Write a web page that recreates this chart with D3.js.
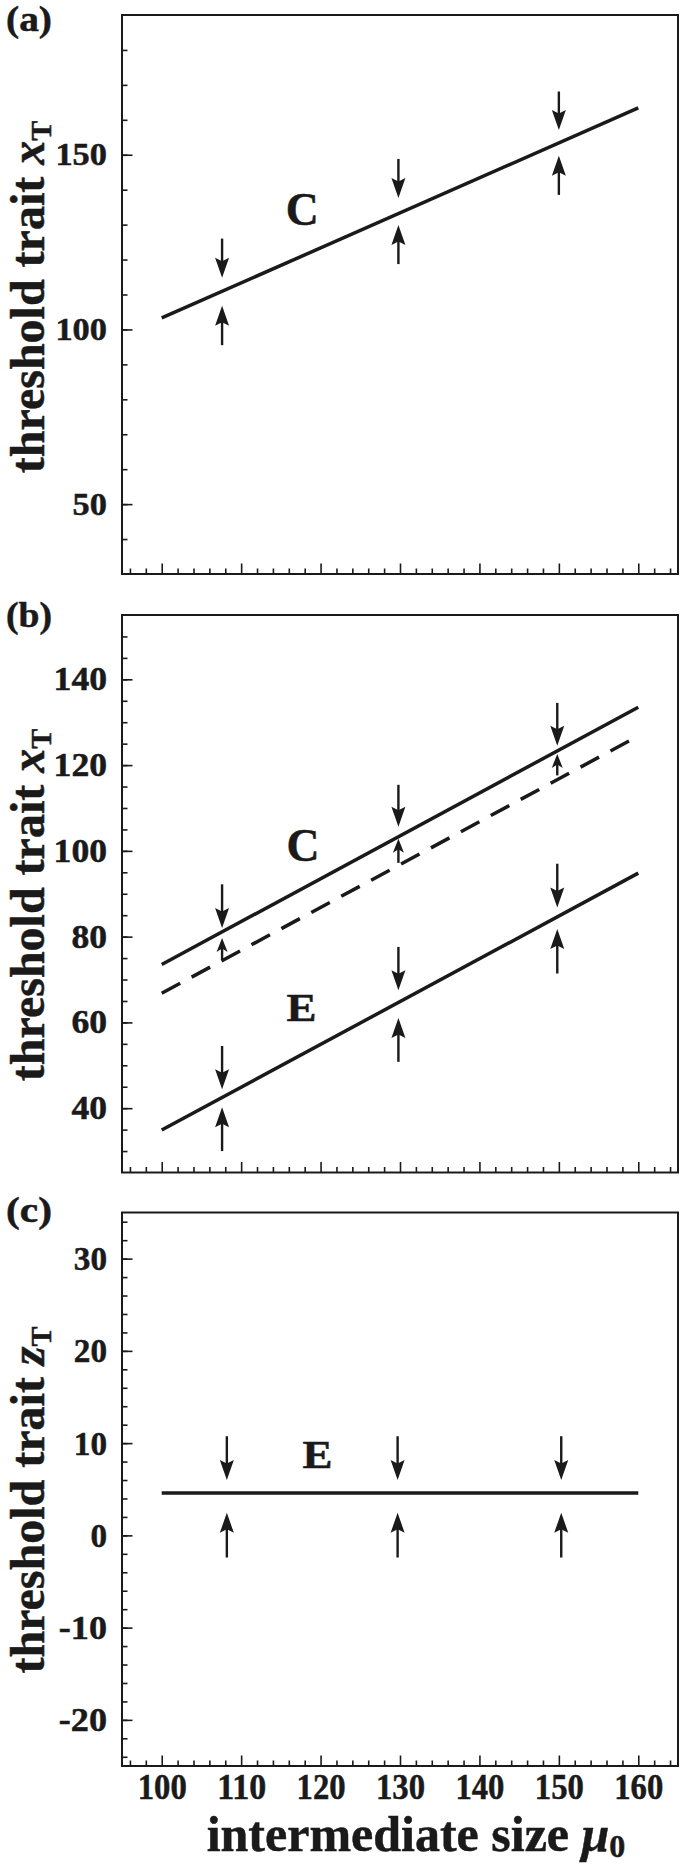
<!DOCTYPE html>
<html>
<head>
<meta charset="utf-8">
<script src="https://cdn.jsdelivr.net/npm/d3@7"></script>
<style>
  html, body { margin: 0; padding: 0; background: #fff; }
  svg { display: block; }
  text { font-family: "Liberation Serif", "Times New Roman", serif; font-weight: bold; fill: #1a1a1a; stroke: #1a1a1a; stroke-width: 0.5px; }
</style>
</head>
<body>
<svg id="chart" width="685" height="1868"></svg>
<script>
// ---------------- data ----------------
const xTickLabels = [100, 110, 120, 130, 140, 150, 160];
const lineX = [100, 160];

// panel (a)
const aTickLabels = [50, 100, 150];
const aLineC = [103.3, 163.4];
const aArrowX = [107.6, 129.8, 150.0];
const aDownFrom = [126.0, 148.8, 168.1];
const aDownTo   = [114.8, 137.6, 157.1];
const aUpFrom   = [95.5, 118.7, 138.5];
const aUpTo     = [106.8, 129.9, 149.7];

// panel (b)
const bTickLabels = [40, 60, 80, 100, 120, 140];
const bLineC = [73.5, 133.5];
const bLineCdash = [66.8, 126.8];
const bLineE = [34.9, 94.8];
const bArrowX = [107.6, 129.8, 149.8];
const bCDownFrom = [92.2, 115.4, 134.5];
const bCDownTo   = [82.0, 105.6, 124.5];
const bCUpFrom   = [74.6, 97.2, 117.6];
const bCUpTo     = [79.7, 102.8, 122.6];
const bEDownFrom = [54.5, 77.6, 97.0];
const bEDownTo   = [44.4, 67.5, 86.8];
const bEUpFrom   = [30.0, 50.8, 71.4];
const bEUpTo     = [40.2, 61.0, 81.8];

// panel (c)
const cTickLabels = [-20, -10, 0, 10, 20, 30];
const cLineE = [4.6, 4.6];
const cArrowX = [108.2, 129.7, 150.3];
const cDownFrom = [10.75, 10.75, 10.75];
const cDownTo   = [6.0, 6.0, 6.0];
const cUpFrom   = [-2.4, -2.4, -2.4];
const cUpTo     = [2.45, 2.45, 2.45];

// curve labels [x, y]
const aLabelC = [117.7, 130.0];
const bLabelC = [117.8, 97.7];
const bLabelE = [117.6, 60.3];
const cLabelE = [119.6, 7.3];

// ---------------- drawing ----------------
const svg = d3.select("#chart");
const left = 122, right = 678;
const x = d3.scaleLinear().domain([95, 165]).range([left, right]);
const INK = "#1a1a1a";
const FONT = '"Liberation Serif", "Times New Roman", serif';

const panels = [
  { tag: "(a)", top: 15, bottom: 574, domain: [30, 190], labels: aTickLabels, minor: 10, lblY: 31,
    tickFont: 31, dw: 17.2, hw: 14, title: "x", titleCY: 297 },
  { tag: "(b)", top: 615, bottom: 1172.5, domain: [25, 155], labels: bTickLabels, minor: 5, lblY: 627,
    tickFont: 33, dw: 17.8, hw: 14, title: "x", titleCY: 905 },
  { tag: "(c)", top: 1212.5, bottom: 1766, domain: [-25, 35], labels: cTickLabels, minor: 2, lblY: 1222,
    tickFont: 34, dw: 16.6, hw: 15, title: "z", titleCY: 1500 }
];

function labelWidth(d, dw, hw) {
  const s = String(d);
  const nd = s.replace("-", "").length;
  return nd * dw + (d < 0 ? hw : 0);
}

function drawArrow(g, px, y1, y2, headLen, headHalf) {
  const dir = Math.sign(y2 - y1);
  const base = y2 - dir * headLen;
  g.append("line")
    .attr("x1", px).attr("x2", px)
    .attr("y1", y1).attr("y2", base + dir * 2)
    .attr("stroke", INK).attr("stroke-width", 2.4);
  g.append("path")
    .attr("d", `M${px},${y2} L${px - headHalf},${base - dir * 2} L${px},${base + dir * 1.5} L${px + headHalf},${base - dir * 2} Z`)
    .attr("fill", INK);
}

panels.forEach((p, i) => {
  const y = d3.scaleLinear().domain(p.domain).range([p.bottom, p.top]);
  p.y = y;
  const g = svg.append("g");

  // y minor ticks
  const yMinor = d3.range(Math.ceil(p.domain[0] / p.minor) * p.minor, p.domain[1] + 0.001, p.minor)
    .filter(v => v > p.domain[0] && v < p.domain[1]);
  g.append("g").attr("transform", `translate(${left},0)`)
    .call(d3.axisLeft(y).tickValues(yMinor).tickSize(-5.5).tickFormat(""))
    .call(a => a.select(".domain").remove())
    .selectAll("line").attr("stroke", INK).attr("stroke-width", 1.6);
  // y major ticks + labels
  g.append("g").attr("transform", `translate(${left},0)`)
    .call(d3.axisLeft(y).tickValues(p.labels).tickSize(-10.5).tickPadding(15).tickFormat(d => String(d)))
    .call(a => a.select(".domain").remove())
    .call(a => a.selectAll("line").attr("stroke", INK).attr("stroke-width", 1.6))
    .call(a => a.selectAll("text").attr("font-size", p.tickFont).attr("fill", INK)
      .style("font-family", FONT).style("font-weight", "bold")
      .attr("textLength", d => labelWidth(d, p.dw, p.hw))
      .attr("lengthAdjust", "spacingAndGlyphs"));

  // x ticks
  const xMinor = d3.range(96, 165, 2).filter(v => v % 10 !== 0);
  g.append("g").attr("transform", `translate(0,${p.bottom})`)
    .call(d3.axisBottom(x).tickValues(xMinor).tickSize(-5.5).tickFormat(""))
    .call(a => a.select(".domain").remove())
    .selectAll("line").attr("stroke", INK).attr("stroke-width", 1.6);
  const xa = g.append("g").attr("transform", `translate(0,${p.bottom})`)
    .call(d3.axisBottom(x).tickValues(xTickLabels).tickSize(-10.5).tickPadding(8)
      .tickFormat(i === 2 ? (d => String(d)) : ""))
    .call(a => a.select(".domain").remove())
    .call(a => a.selectAll("line").attr("stroke", INK).attr("stroke-width", 1.6));
  if (i === 2) {
    xa.selectAll("text").attr("font-size", 35).attr("fill", INK)
      .style("font-family", FONT).style("font-weight", "bold")
      .attr("dy", "0.71em")
      .attr("textLength", 49).attr("lengthAdjust", "spacingAndGlyphs");
  }

  // frame
  g.append("rect").attr("x", left).attr("y", p.top)
    .attr("width", right - left).attr("height", p.bottom - p.top)
    .attr("fill", "none").attr("stroke", INK).attr("stroke-width", 2);

  // panel tag
  svg.append("text").attr("x", 6).attr("y", p.lblY).attr("font-size", 36)
    .attr("textLength", 46).attr("lengthAdjust", "spacingAndGlyphs").text(p.tag);

  // y title
  const t = svg.append("text")
    .attr("transform", `translate(44,${p.titleCY}) rotate(-90)`)
    .attr("text-anchor", "middle").attr("font-size", 48);
  t.append("tspan").text("threshold trait ");
  t.append("tspan").style("font-style", "italic").text(p.title);
  t.append("tspan").attr("font-size", 30).attr("dy", 7).text("T");
});

const line = d3.line().x(d => x(d[0])).y(d => d[1]);
function drawLine(p, vals, dash) {
  const pts = lineX.map((xv, k) => [xv, p.y(vals[k])]);
  svg.append("path").attr("d", line(pts))
    .attr("fill", "none").attr("stroke", INK).attr("stroke-width", 3.5)
    .attr("stroke-dasharray", dash ? "21,13" : null);
}
function drawArrows(p, xs, from, to, headLen, headHalf) {
  const g = svg.append("g");
  xs.forEach((xv, k) => drawArrow(g, x(xv), p.y(from[k]), p.y(to[k]), headLen, headHalf));
}
function drawLabel(p, pos, txt, fs, w) {
  svg.append("text").attr("x", x(pos[0])).attr("y", p.y(pos[1]))
    .attr("text-anchor", "middle").attr("font-size", fs)
    .attr("textLength", w).attr("lengthAdjust", "spacingAndGlyphs").text(txt);
}

const [pa, pb, pc] = panels;
// (a)
drawLine(pa, aLineC, false);
drawArrows(pa, aArrowX, aDownFrom, aDownTo, 18, 7);
drawArrows(pa, aArrowX, aUpFrom, aUpTo, 18, 7);
drawLabel(pa, aLabelC, "C", 46, 33);
// (b)
drawLine(pb, bLineC, false);
drawLine(pb, bLineCdash, true);
drawLine(pb, bLineE, false);
drawArrows(pb, bArrowX, bCDownFrom, bCDownTo, 18, 7);
drawArrows(pb, bArrowX, bCUpFrom, bCUpTo, 12, 5.5);
drawArrows(pb, bArrowX, bEDownFrom, bEDownTo, 18, 7);
drawArrows(pb, bArrowX, bEUpFrom, bEUpTo, 18, 7);
drawLabel(pb, bLabelC, "C", 46, 33);
drawLabel(pb, bLabelE, "E", 40, 30);
// (c)
drawLine(pc, cLineE, false);
drawArrows(pc, cArrowX, cDownFrom, cDownTo, 18, 7);
drawArrows(pc, cArrowX, cUpFrom, cUpTo, 18, 7);
drawLabel(pc, cLabelE, "E", 40, 30);

// x title
const xt = svg.append("text").attr("x", 416).attr("y", 1851)
  .attr("text-anchor", "middle").attr("font-size", 50);
xt.append("tspan").text("intermediate size ");
xt.append("tspan").style("font-style", "italic").text("μ");
xt.append("tspan").attr("font-size", 32).attr("dy", 6).text("0");
</script>
</body>
</html>
